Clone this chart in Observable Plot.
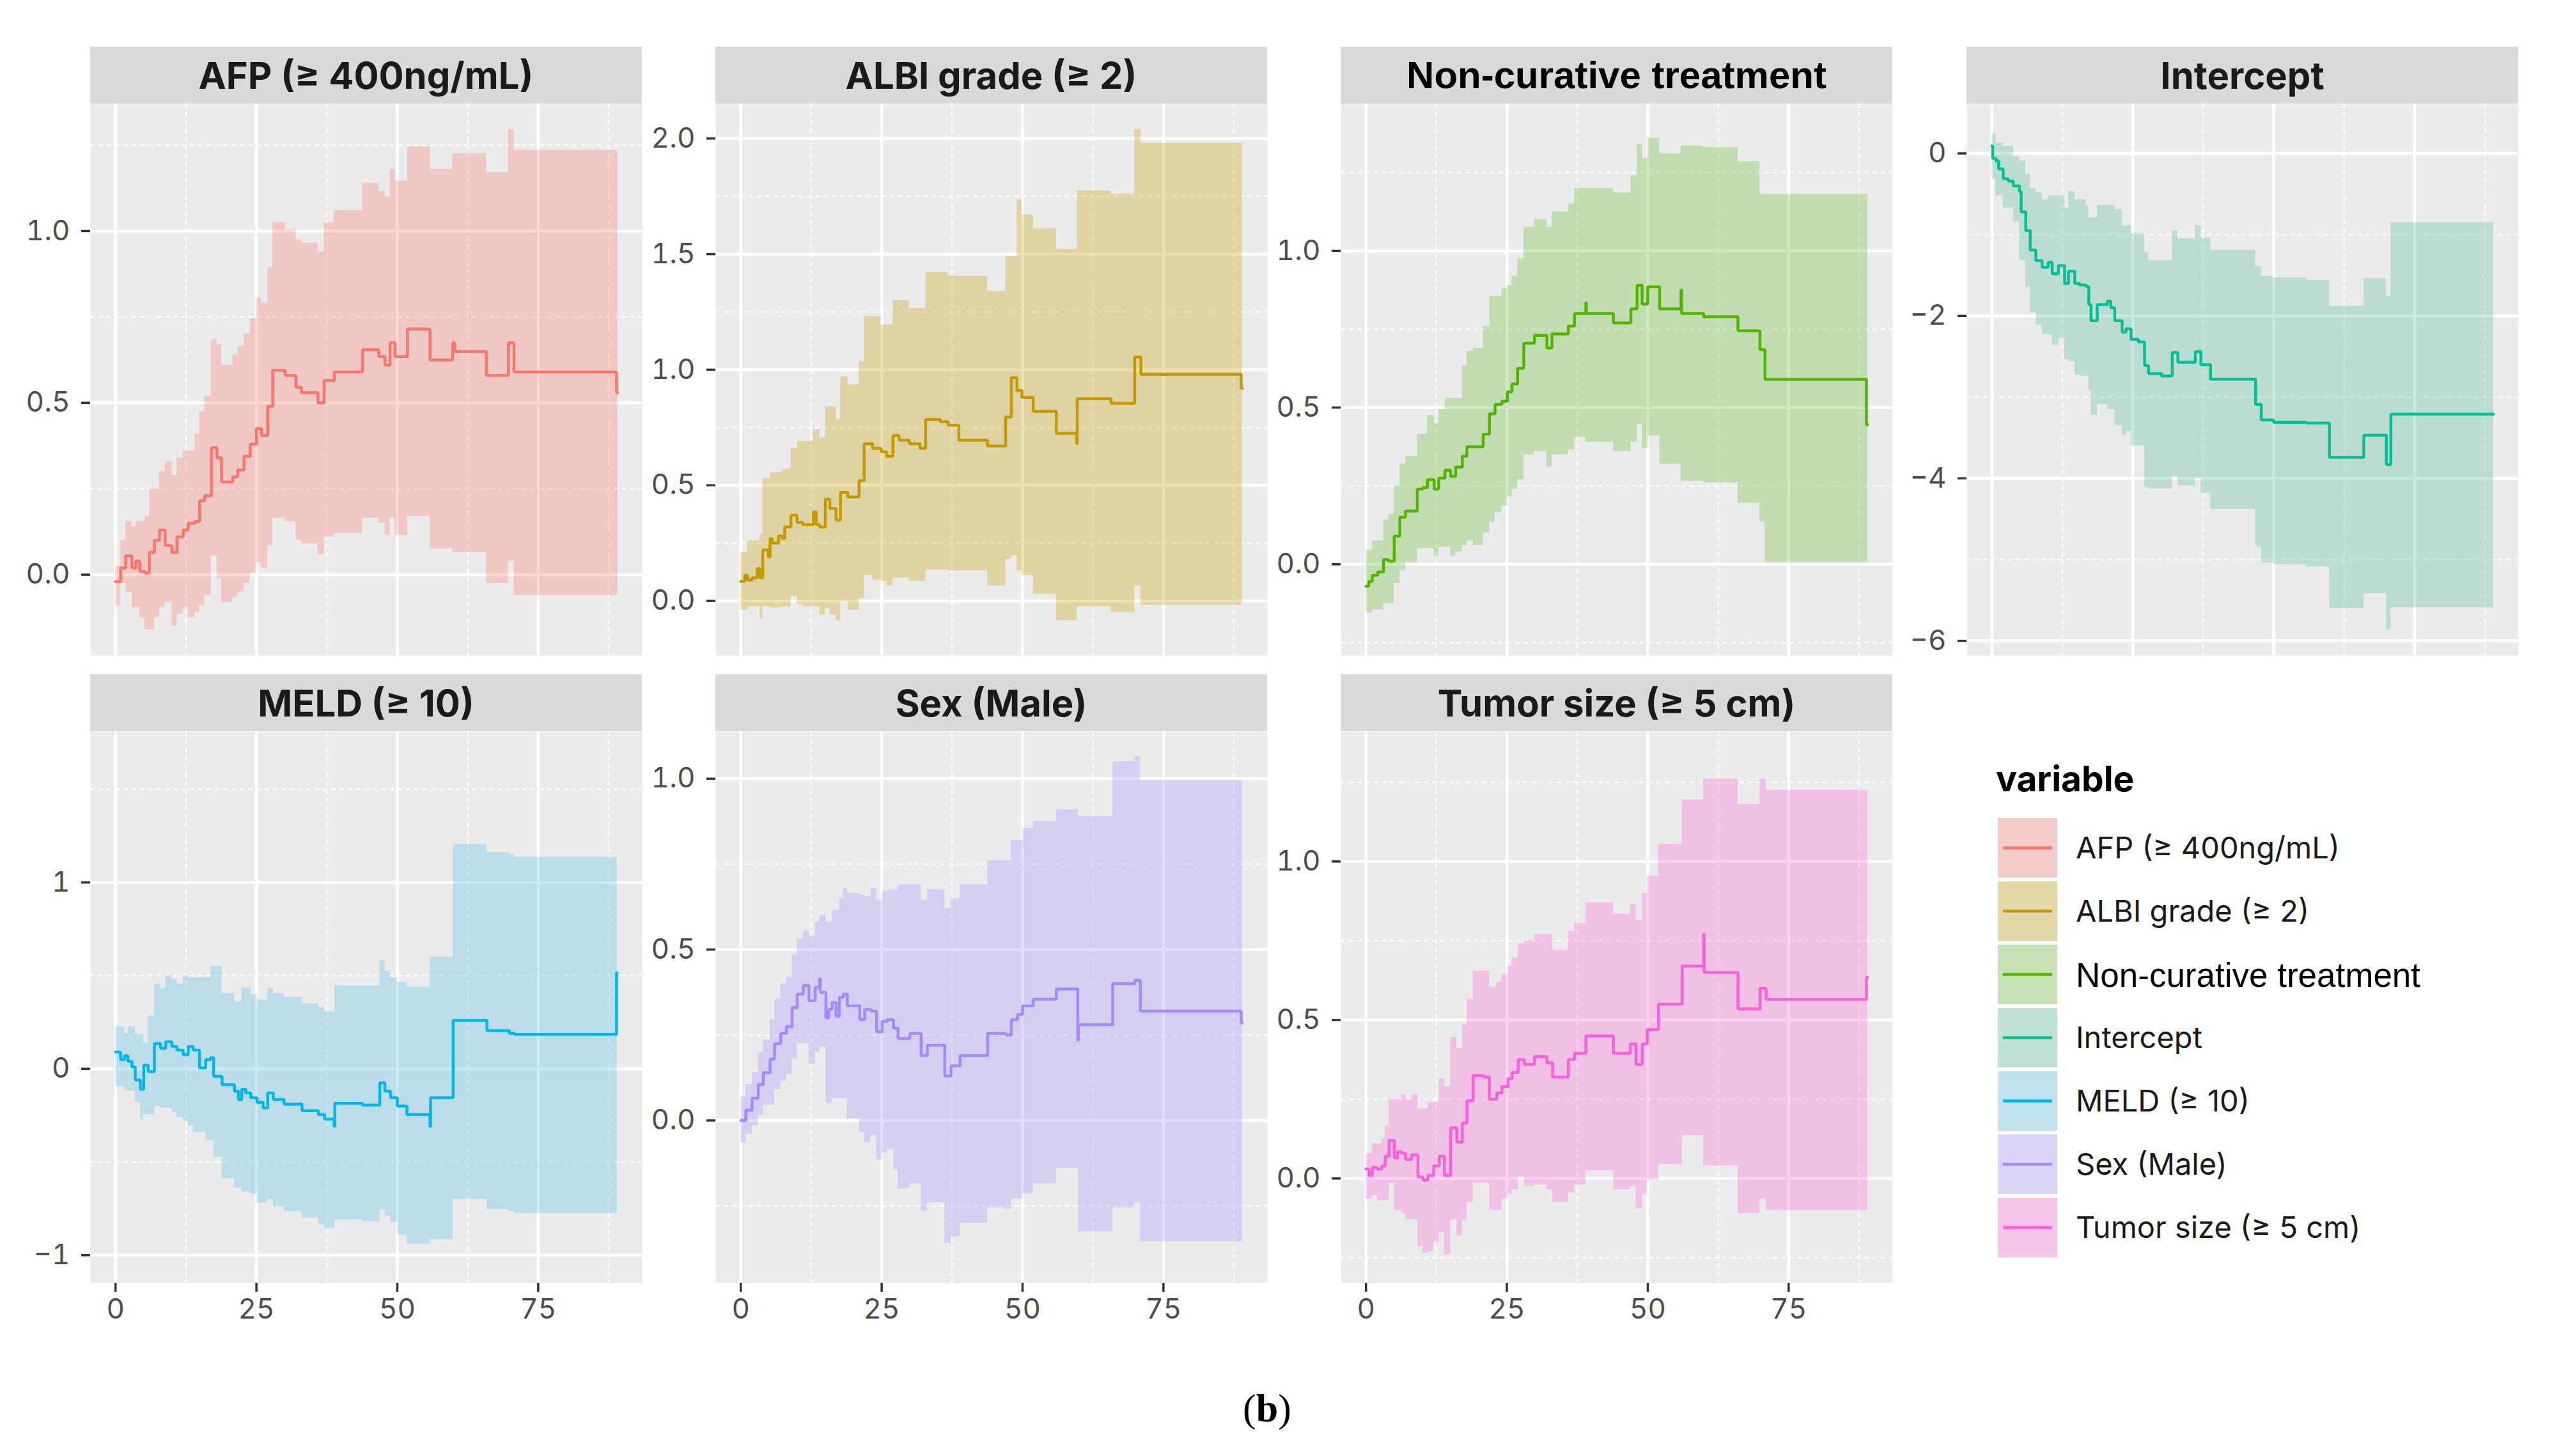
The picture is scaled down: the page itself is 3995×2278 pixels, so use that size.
<!DOCTYPE html>
<html>
<head>
<meta charset="utf-8">
<script src="https://cdn.jsdelivr.net/npm/d3@7"></script>
<script src="https://cdn.jsdelivr.net/npm/@observablehq/plot@0.6"></script>
<style>
html, body { margin: 0; padding: 0; background: #ffffff; }
#root { position: relative; width: 3995px; height: 2278px; overflow: hidden; font-family: Inter, "Noto Sans", sans-serif; }
.strip { position: absolute; background: #D9D9D9; color: #1A1A1A; font-weight: 700; font-size: 58px;
  display: flex; align-items: center; justify-content: center; white-space: nowrap; }
.panel { position: absolute; }
.panel svg { overflow: visible; }
#caption { position: absolute; left: 0; width: 3964px; top: 2168px; text-align: center;
  font-family: "Liberation Serif", "DejaVu Serif", serif; font-size: 62px; color: #000; }
</style>
</head>
<body>
<div id="root"></div>
<script>
// ---------- categories / colours ----------
const variables = ["AFP (≥ 400ng/mL)", "ALBI grade (≥ 2)", "Non-curative treatment", "Intercept", "MELD (≥ 10)", "Sex (Male)", "Tumor size (≥ 5 cm)"];
const colors = ["#F8766D", "#C49A00", "#53B400", "#00C094", "#00B6EB", "#A58AFF", "#FB61D7"];
const bandColors = ["#F8766D", "#C49A00", "#62B830", "#4EB998", "#4EB9E4", "#A58AFF", "#FB61D7"];

// ---------- tick labels ----------
const xMajor = [0, 25, 50, 75];
const xMinor = [12.5, 37.5, 62.5, 87.5];

// ---------- AFP ----------
const afpT = [0, 0.9, 1.8, 2.9, 3.6, 4.3, 5.2, 6.0, 6.9, 7.8, 8.8, 10.0, 10.9, 12.0, 12.9, 14.1, 14.9, 15.8, 17.0, 18.0, 18.8, 20.8, 21.7, 22.8, 23.9, 25.0, 25.9, 27.0, 27.9, 30.1, 32.0, 33.0, 35.9, 37.0, 38.8, 43.8, 46.7, 47.8, 48.7, 49.6, 51.8, 55.8, 59.8, 60.2, 65.8, 69.7, 70.7, 88.9, 89.1];
const afpEst = [-0.02, 0.02, 0.055, 0.02, 0.04, 0.01, 0.005, 0.065, 0.10, 0.13, 0.085, 0.065, 0.11, 0.13, 0.15, 0.155, 0.215, 0.23, 0.37, 0.34, 0.27, 0.285, 0.305, 0.345, 0.38, 0.425, 0.405, 0.49, 0.595, 0.58, 0.545, 0.53, 0.50, 0.565, 0.59, 0.655, 0.635, 0.61, 0.675, 0.635, 0.715, 0.625, 0.675, 0.65, 0.58, 0.675, 0.59, 0.53, 0.53];
const afpHi = [0.025, 0.10, 0.155, 0.14, 0.155, 0.155, 0.17, 0.25, 0.25, 0.30, 0.33, 0.29, 0.34, 0.36, 0.36, 0.41, 0.475, 0.52, 0.685, 0.67, 0.61, 0.64, 0.665, 0.70, 0.745, 0.805, 0.79, 0.895, 1.025, 1.005, 0.975, 0.965, 0.94, 1.025, 1.06, 1.14, 1.115, 1.10, 1.18, 1.145, 1.245, 1.18, 1.225, 1.225, 1.17, 1.295, 1.235, 1.235, 1.235];
const afpLo = [-0.09, -0.025, -0.05, -0.095, -0.095, -0.125, -0.16, -0.16, -0.125, -0.095, -0.08, -0.15, -0.115, -0.095, -0.125, -0.11, -0.09, -0.06, 0.055, -0.01, -0.08, -0.065, -0.05, -0.025, 0.005, 0.035, 0.02, 0.085, 0.165, 0.155, 0.10, 0.09, 0.06, 0.11, 0.12, 0.165, 0.15, 0.115, 0.165, 0.115, 0.17, 0.075, 0.065, 0.065, -0.025, 0.04, -0.06, -0.06, -0.06];

// ---------- ALBI ----------
const albiT = [0, 0.7, 1.2, 2.0, 2.9, 3.4, 3.9, 4.9, 5.2, 5.6, 6.7, 7.4, 7.8, 8.9, 10.0, 11.0, 12.9, 13.4, 14.0, 15.0, 15.8, 16.9, 17.7, 19.0, 21.0, 21.9, 23.4, 24.9, 25.9, 27.0, 28.1, 29.9, 31.8, 32.8, 35.4, 36.8, 38.7, 43.8, 47.0, 48.0, 49.0, 49.9, 51.9, 56.0, 59.6, 59.7, 65.7, 69.9, 71.0, 88.8, 89.0];
const albiEst = [0.085, 0.11, 0.09, 0.10, 0.14, 0.10, 0.22, 0.19, 0.27, 0.25, 0.28, 0.27, 0.32, 0.37, 0.34, 0.33, 0.385, 0.33, 0.32, 0.44, 0.40, 0.35, 0.47, 0.45, 0.52, 0.68, 0.66, 0.645, 0.625, 0.715, 0.695, 0.68, 0.66, 0.785, 0.775, 0.76, 0.695, 0.67, 0.795, 0.965, 0.91, 0.88, 0.82, 0.725, 0.68, 0.875, 0.855, 1.055, 0.98, 0.92, 0.92];
const albiHi = [0.21, 0.21, 0.26, 0.26, 0.26, 0.29, 0.53, 0.53, 0.555, 0.555, 0.555, 0.57, 0.57, 0.66, 0.69, 0.69, 0.74, 0.74, 0.705, 0.84, 0.84, 0.785, 0.97, 0.935, 1.035, 1.23, 1.23, 1.195, 1.195, 1.30, 1.30, 1.265, 1.265, 1.42, 1.42, 1.405, 1.405, 1.34, 1.49, 1.49, 1.735, 1.67, 1.61, 1.52, 1.52, 1.775, 1.76, 2.04, 1.98, 1.98, 1.98];
const albiLo = [-0.04, -0.04, -0.025, -0.025, -0.025, -0.075, -0.025, -0.025, -0.03, -0.03, -0.03, -0.025, -0.025, 0.02, -0.015, -0.025, -0.025, -0.025, -0.06, -0.03, -0.06, -0.085, -0.005, -0.04, 0.01, 0.11, 0.09, 0.085, 0.065, 0.10, 0.10, 0.085, 0.085, 0.135, 0.135, 0.13, 0.13, 0.065, 0.18, 0.195, 0.13, 0.11, 0.03, -0.085, -0.085, -0.025, -0.05, 0.065, -0.018, -0.018, -0.018];

// ---------- Non-curative treatment ----------
const ncT = [0, 0.5, 1.1, 2.1, 3.1, 4.0, 5.0, 6.0, 7.0, 9.1, 10.1, 10.9, 12.1, 12.9, 14.0, 15.0, 15.9, 17.1, 17.9, 19.0, 20.8, 21.9, 22.9, 24.1, 25.1, 25.9, 26.9, 28.0, 29.9, 32.1, 33.0, 35.9, 37.0, 39.0, 39.1, 43.9, 47.0, 48.1, 49.0, 50.0, 52.1, 55.9, 56.0, 59.9, 66.0, 69.9, 70.8, 88.8, 89.0];
const ncEst = [-0.07, -0.055, -0.035, -0.025, 0.015, 0.01, 0.09, 0.15, 0.17, 0.24, 0.245, 0.27, 0.24, 0.275, 0.30, 0.28, 0.31, 0.345, 0.375, 0.375, 0.415, 0.48, 0.51, 0.52, 0.55, 0.575, 0.625, 0.705, 0.73, 0.69, 0.735, 0.76, 0.80, 0.835, 0.80, 0.77, 0.815, 0.89, 0.83, 0.885, 0.815, 0.875, 0.80, 0.79, 0.745, 0.685, 0.59, 0.445, 0.445];
const ncHi = [0.045, 0.045, 0.075, 0.075, 0.14, 0.16, 0.25, 0.32, 0.345, 0.415, 0.415, 0.475, 0.45, 0.495, 0.53, 0.53, 0.53, 0.635, 0.68, 0.69, 0.76, 0.855, 0.855, 0.88, 0.89, 0.92, 0.975, 1.075, 1.10, 1.075, 1.125, 1.15, 1.20, 1.20, 1.20, 1.185, 1.24, 1.34, 1.295, 1.36, 1.31, 1.335, 1.335, 1.33, 1.285, 1.18, 1.18, 1.18, 1.18];
const ncLo = [-0.155, -0.155, -0.145, -0.145, -0.125, -0.125, -0.06, -0.02, 0.005, 0.05, 0.05, 0.05, 0.025, 0.055, 0.055, 0.025, 0.04, 0.06, 0.075, 0.06, 0.10, 0.135, 0.165, 0.185, 0.215, 0.24, 0.27, 0.35, 0.36, 0.31, 0.35, 0.365, 0.405, 0.39, 0.39, 0.36, 0.39, 0.445, 0.37, 0.41, 0.32, 0.265, 0.265, 0.26, 0.195, 0.135, 0.005, 0.005, 0.005];

// ---------- Intercept ----------
const intT = [0, 0.15, 0.7, 1.2, 2.0, 2.9, 3.8, 4.9, 5.2, 6.0, 6.8, 7.8, 8.9, 10.0, 10.7, 11.8, 12.9, 13.6, 14.7, 15.6, 16.7, 17.2, 17.6, 18.7, 20.5, 21.1, 21.8, 23.1, 23.8, 24.7, 26.0, 27.1, 27.8, 30.1, 32.0, 33.0, 36.1, 37.1, 38.8, 46.8, 47.8, 50.0, 55.8, 59.9, 66.0, 70.0, 70.8, 88.9, 89.0];
const intEst = [0.09, -0.06, -0.09, -0.19, -0.31, -0.34, -0.40, -0.47, -0.72, -0.95, -1.19, -1.32, -1.40, -1.34, -1.48, -1.38, -1.60, -1.45, -1.60, -1.62, -1.64, -1.86, -2.06, -1.86, -1.82, -1.90, -2.06, -2.20, -2.16, -2.29, -2.32, -2.61, -2.71, -2.74, -2.45, -2.57, -2.44, -2.60, -2.78, -3.09, -3.28, -3.31, -3.32, -3.74, -3.47, -3.83, -3.21, -3.21, -3.21];
const intHi = [0.24, 0.24, 0.13, 0.13, 0.09, 0.09, -0.04, -0.09, -0.09, -0.26, -0.43, -0.48, -0.57, -0.52, -0.52, -0.52, -0.67, -0.47, -0.57, -0.57, -0.64, -0.79, -0.79, -0.64, -0.64, -0.64, -0.69, -0.89, -0.89, -0.99, -0.99, -1.22, -1.32, -1.32, -0.95, -1.05, -0.89, -1.04, -1.19, -1.39, -1.51, -1.53, -1.56, -1.88, -1.54, -1.76, -0.85, -0.85, -0.85];
const intLo = [-0.31, -0.31, -0.52, -0.52, -0.67, -0.67, -0.84, -1.32, -1.32, -1.65, -1.96, -2.11, -2.23, -2.23, -2.36, -2.28, -2.54, -2.56, -2.73, -2.74, -2.74, -2.92, -3.22, -3.09, -3.15, -3.15, -3.35, -3.47, -3.42, -3.60, -3.60, -4.11, -4.13, -4.13, -3.98, -4.09, -4.00, -4.18, -4.38, -4.84, -5.04, -5.06, -5.09, -5.60, -5.42, -5.87, -5.59, -5.59, -5.59];

// ---------- MELD ----------
const meldT = [0, 0.9, 1.6, 2.2, 2.9, 3.5, 4.4, 5.0, 5.8, 6.9, 8.0, 8.9, 10.0, 10.9, 12.0, 12.9, 13.8, 14.9, 16.0, 16.9, 17.4, 18.9, 21.1, 21.8, 22.4, 23.1, 24.0, 25.1, 26.2, 27.0, 28.0, 29.9, 33.1, 36.0, 37.1, 38.8, 38.9, 43.8, 46.9, 47.8, 48.8, 50.0, 51.7, 55.8, 55.9, 59.9, 65.9, 69.9, 70.8, 88.9, 89.0];
const meldEst = [0.09, 0.05, 0.07, 0.04, 0.01, -0.06, -0.11, 0.02, -0.015, 0.135, 0.11, 0.145, 0.12, 0.10, 0.075, 0.12, 0.10, 0.005, 0.05, 0.06, -0.04, -0.085, -0.12, -0.165, -0.11, -0.13, -0.155, -0.18, -0.21, -0.13, -0.165, -0.19, -0.225, -0.245, -0.27, -0.31, -0.185, -0.195, -0.075, -0.12, -0.155, -0.20, -0.245, -0.31, -0.155, 0.26, 0.205, 0.19, 0.185, 0.515, 0.515];
const meldHi = [0.225, 0.225, 0.19, 0.225, 0.225, 0.185, 0.185, 0.135, 0.285, 0.455, 0.43, 0.50, 0.48, 0.455, 0.50, 0.49, 0.49, 0.49, 0.49, 0.55, 0.55, 0.405, 0.36, 0.36, 0.435, 0.435, 0.40, 0.37, 0.37, 0.435, 0.405, 0.385, 0.35, 0.33, 0.305, 0.305, 0.445, 0.445, 0.58, 0.525, 0.49, 0.465, 0.44, 0.60, 0.60, 1.205, 1.16, 1.15, 1.135, 1.135, 1.135];
const meldLo = [-0.095, -0.095, -0.12, -0.12, -0.12, -0.18, -0.27, -0.245, -0.245, -0.20, -0.21, -0.21, -0.235, -0.26, -0.28, -0.305, -0.34, -0.34, -0.385, -0.385, -0.475, -0.59, -0.64, -0.64, -0.66, -0.66, -0.67, -0.72, -0.72, -0.70, -0.74, -0.765, -0.80, -0.835, -0.855, -0.855, -0.81, -0.82, -0.755, -0.79, -0.825, -0.89, -0.94, -0.915, -0.915, -0.70, -0.755, -0.765, -0.775, -0.775, -0.775];

// ---------- Sex (Male) ----------
const sexT = [0, 0.9, 2.0, 3.1, 4.0, 5.2, 6.0, 7.1, 8.1, 9.1, 10.0, 11.1, 12.1, 13.2, 14.0, 14.1, 15.1, 15.6, 16.2, 16.9, 17.5, 18.2, 18.9, 21.1, 22.0, 23.1, 24.1, 25.1, 26.0, 27.1, 27.9, 30.0, 32.0, 33.1, 36.2, 37.3, 38.9, 43.8, 47.1, 48.0, 49.1, 50.0, 51.9, 56.0, 59.8, 59.9, 66.0, 69.9, 70.9, 88.8, 89.0];
const sexEst = [0.0, 0.03, 0.065, 0.105, 0.14, 0.18, 0.225, 0.255, 0.275, 0.33, 0.37, 0.395, 0.35, 0.39, 0.415, 0.375, 0.30, 0.325, 0.345, 0.305, 0.36, 0.37, 0.335, 0.295, 0.325, 0.32, 0.26, 0.29, 0.295, 0.27, 0.24, 0.255, 0.19, 0.22, 0.13, 0.16, 0.19, 0.255, 0.25, 0.295, 0.31, 0.335, 0.355, 0.385, 0.235, 0.28, 0.40, 0.41, 0.32, 0.285, 0.285];
const sexHi = [0.07, 0.105, 0.14, 0.20, 0.235, 0.295, 0.355, 0.40, 0.42, 0.485, 0.53, 0.555, 0.54, 0.58, 0.60, 0.60, 0.58, 0.58, 0.615, 0.615, 0.65, 0.68, 0.665, 0.66, 0.655, 0.68, 0.645, 0.67, 0.675, 0.675, 0.69, 0.69, 0.645, 0.675, 0.62, 0.65, 0.69, 0.76, 0.76, 0.82, 0.82, 0.855, 0.875, 0.91, 0.91, 0.89, 1.05, 1.065, 0.995, 0.995, 0.995];
const sexLo = [-0.065, -0.04, -0.015, 0.015, 0.045, 0.045, 0.09, 0.115, 0.135, 0.18, 0.225, 0.225, 0.165, 0.20, 0.215, 0.215, 0.05, 0.05, 0.065, 0.065, 0.065, 0.065, 0.005, -0.035, -0.065, -0.045, -0.115, -0.095, -0.085, -0.145, -0.20, -0.185, -0.265, -0.24, -0.36, -0.34, -0.30, -0.255, -0.26, -0.23, -0.23, -0.215, -0.185, -0.14, -0.14, -0.325, -0.255, -0.24, -0.355, -0.355, -0.355];

// ---------- Tumor size ----------
const tumT = [0, 0.5, 1.1, 2.0, 2.8, 3.4, 4.1, 5.0, 5.6, 6.3, 7.0, 8.1, 9.2, 10.1, 11.0, 12.0, 13.0, 13.9, 15.0, 16.1, 17.1, 17.9, 19.0, 20.9, 21.9, 23.2, 24.1, 25.2, 25.9, 27.0, 28.1, 29.9, 32.1, 33.1, 35.9, 37.0, 39.0, 43.9, 46.9, 47.9, 49.0, 49.9, 51.9, 56.1, 59.9, 60.0, 66.0, 69.9, 71.0, 88.8, 89.0];
const tumEst = [0.03, 0.01, 0.035, 0.03, 0.04, 0.07, 0.12, 0.065, 0.085, 0.08, 0.06, 0.075, 0.005, -0.005, 0.01, 0.04, 0.07, 0.01, 0.16, 0.115, 0.175, 0.245, 0.325, 0.32, 0.25, 0.27, 0.29, 0.315, 0.335, 0.375, 0.36, 0.385, 0.365, 0.32, 0.375, 0.395, 0.45, 0.395, 0.425, 0.36, 0.425, 0.47, 0.55, 0.67, 0.77, 0.65, 0.535, 0.60, 0.565, 0.635, 0.635];
const tumHi = [0.08, 0.08, 0.11, 0.11, 0.125, 0.165, 0.25, 0.25, 0.25, 0.265, 0.25, 0.265, 0.22, 0.22, 0.24, 0.24, 0.315, 0.29, 0.445, 0.41, 0.485, 0.565, 0.655, 0.655, 0.605, 0.62, 0.645, 0.67, 0.695, 0.74, 0.75, 0.77, 0.77, 0.72, 0.78, 0.805, 0.87, 0.835, 0.865, 0.815, 0.90, 0.955, 1.055, 1.195, 1.26, 1.26, 1.18, 1.26, 1.225, 1.225, 1.225];
const tumLo = [-0.065, -0.065, -0.055, -0.07, -0.07, -0.07, -0.015, -0.10, -0.10, -0.11, -0.13, -0.13, -0.215, -0.235, -0.23, -0.20, -0.17, -0.24, -0.13, -0.18, -0.13, -0.075, -0.015, -0.015, -0.10, -0.10, -0.065, -0.05, -0.035, 0.005, -0.025, -0.02, -0.035, -0.075, -0.045, -0.02, 0.025, -0.035, -0.025, -0.095, -0.05, -0.005, 0.045, 0.135, 0.04, 0.04, -0.11, -0.065, -0.10, -0.10, -0.10];

// ---------- y tick values / labels per panel ----------
const afpTicks = [0, 0.5, 1.0], afpLabels = ["0.0", "0.5", "1.0"], afpMinor = [0.25, 0.75, 1.25];
const albiTicks = [0, 0.5, 1.0, 1.5, 2.0], albiLabels = ["0.0", "0.5", "1.0", "1.5", "2.0"], albiMinor = [0.25, 0.75, 1.25, 1.75];
const ncTicks = [0, 0.5, 1.0], ncLabels = ["0.0", "0.5", "1.0"], ncMinor = [-0.25, 0.25, 0.75, 1.25];
const intTicks = [-6, -4, -2, 0], intLabels = ["−6", "−4", "−2", "0"], intMinor = [-5, -3, -1];
const meldTicks = [-1, 0, 1], meldLabels = ["−1", "0", "1"], meldMinor = [-0.5, 0.5, 1.5];
const sexTicks = [0, 0.5, 1.0], sexLabels = ["0.0", "0.5", "1.0"], sexMinor = [-0.25, 0.25, 0.75];
const tumTicks = [0, 0.5, 1.0], tumLabels = ["0.0", "0.5", "1.0"], tumMinor = [-0.25, 0.25, 0.75, 1.25];

// ---------- layout ----------
const colLeft = [141, 1119, 2097, 3076];
const rowTop = [73, 1055];
const stripH = 89, PW = 863, PH = 863, ML = 130, MB = 90;
const xDomain = [-4.45, 93.45];

const panels = [
  {i: 0, t: afpT, est: afpEst, lo: afpLo, hi: afpHi, yDomain: [-0.235, 1.37], ticks: afpTicks, labels: afpLabels, minor: afpMinor, col: 0, row: 0, xAxis: false},
  {i: 1, t: albiT, est: albiEst, lo: albiLo, hi: albiHi, yDomain: [-0.236, 2.15], ticks: albiTicks, labels: albiLabels, minor: albiMinor, col: 1, row: 0, xAxis: false},
  {i: 2, t: ncT, est: ncEst, lo: ncLo, hi: ncHi, yDomain: [-0.291, 1.469], ticks: ncTicks, labels: ncLabels, minor: ncMinor, col: 2, row: 0, xAxis: false, stripFont: "'Liberation Sans', Arial, sans-serif"},
  {i: 3, t: intT, est: intEst, lo: intLo, hi: intHi, yDomain: [-6.18, 0.61], ticks: intTicks, labels: intLabels, minor: intMinor, col: 3, row: 0, xAxis: false},
  {i: 4, t: meldT, est: meldEst, lo: meldLo, hi: meldHi, yDomain: [-1.15, 1.81], ticks: meldTicks, labels: meldLabels, minor: meldMinor, col: 0, row: 1, xAxis: true},
  {i: 5, t: sexT, est: sexEst, lo: sexLo, hi: sexHi, yDomain: [-0.476, 1.138], ticks: sexTicks, labels: sexLabels, minor: sexMinor, col: 1, row: 1, xAxis: true},
  {i: 6, t: tumT, est: tumEst, lo: tumLo, hi: tumHi, yDomain: [-0.33, 1.41], ticks: tumTicks, labels: tumLabels, minor: tumMinor, col: 2, row: 1, xAxis: true}
];

const root = document.getElementById("root");

for (const p of panels) {
  const left = colLeft[p.col];
  const top = rowTop[p.row];

  const strip = document.createElement("div");
  strip.className = "strip";
  strip.style.left = left + "px";
  strip.style.top = top + "px";
  strip.style.width = PW + "px";
  strip.style.height = stripH + "px";
  if (p.stripFont) { strip.style.fontFamily = p.stripFont; strip.style.color = "#000"; strip.style.fontSize = "60px"; }
  strip.textContent = variables[p.i];
  root.appendChild(strip);

  const rows = p.t.map((t, k) => ({t, est: p.est[k], lo: p.lo[k], hi: p.hi[k]}));
  const marks = [
    Plot.frame({fill: "#EBEBEB", stroke: null}),
    Plot.ruleX(xMinor, {stroke: "#ffffff", strokeWidth: 2.2, strokeDasharray: "7,6"}),
    Plot.ruleY(p.minor, {stroke: "#ffffff", strokeWidth: 2.2, strokeDasharray: "7,6"}),
    Plot.ruleX(xMajor, {stroke: "#ffffff", strokeWidth: 4.5}),
    Plot.ruleY(p.ticks, {stroke: "#ffffff", strokeWidth: 4.5}),
    Plot.areaY(rows, {x: "t", y1: "lo", y2: "hi", curve: "step-after", fill: bandColors[p.i], fillOpacity: 0.3}),
    Plot.line(rows, {x: "t", y: "est", curve: "step-after", stroke: colors[p.i], strokeWidth: 4.5, strokeLinejoin: "miter"}),
    Plot.axisY(p.ticks, {tickFormat: d => p.labels[p.ticks.indexOf(d)], tickSize: 14, tickPadding: 18, fontSize: 44, fill: "#4D4D4D", stroke: "#333333", strokeWidth: 3.5, label: null})
  ];
  if (p.xAxis) {
    marks.push(Plot.axisX(xMajor, {tickSize: 14, tickPadding: 10, fontSize: 44, fill: "#4D4D4D", stroke: "#333333", strokeWidth: 3.5, label: null}));
  }
  const chart = Plot.plot({
    width: ML + PW,
    height: PH + (p.xAxis ? MB : 0),
    marginLeft: ML, marginRight: 0, marginTop: 0, marginBottom: p.xAxis ? MB : 0,
    style: {background: "transparent", fontFamily: "Inter, 'Noto Sans', sans-serif", overflow: "visible"},
    x: p.xAxis ? {domain: xDomain} : {domain: xDomain, axis: null},
    y: {domain: p.yDomain},
    marks
  });
  const wrap = document.createElement("div");
  wrap.className = "panel";
  wrap.style.left = (left - ML) + "px";
  wrap.style.top = (top + stripH) + "px";
  wrap.appendChild(chart);
  root.appendChild(wrap);
}

// ---------- legend ----------
const legend = d3.select(root).append("svg")
  .style("position", "absolute").style("left", "3100px").style("top", "1170px")
  .attr("width", 880).attr("height", 820);
legend.append("text").attr("x", 22).attr("y", 68)
  .attr("font-family", "Inter, 'Noto Sans', sans-serif").attr("font-weight", 700).attr("font-size", 55)
  .attr("fill", "#000").text("variable");
const keyX = 25, keyTop = 110, keyPitch = 99, keySize = 93;
variables.forEach((v, i) => {
  const y = keyTop + i * keyPitch;
  legend.append("rect").attr("x", keyX).attr("y", y).attr("width", keySize).attr("height", keySize).attr("fill", "#F2F2F2");
  legend.append("rect").attr("x", keyX).attr("y", y).attr("width", keySize).attr("height", keySize).attr("fill", bandColors[i]).attr("fill-opacity", 0.3);
  legend.append("line").attr("x1", keyX + 8).attr("x2", keyX + keySize - 8).attr("y1", y + keySize / 2).attr("y2", y + keySize / 2)
    .attr("stroke", colors[i]).attr("stroke-width", 4.5);
  const isNC = v === "Non-curative treatment";
  legend.append("text").attr("x", 147).attr("y", y + keySize / 2).attr("dy", "0.36em")
    .attr("font-family", isNC ? "'Liberation Sans', Arial, sans-serif" : "Inter, 'Noto Sans', sans-serif")
    .attr("font-size", isNC ? 53 : 47).attr("fill", isNC ? "#000" : "#1A1A1A").text(v);
});

// ---------- caption ----------
const cap = document.createElement("div");
cap.id = "caption";
cap.innerHTML = "(<b>b</b>)";
root.appendChild(cap);
</script>
</body>
</html>
